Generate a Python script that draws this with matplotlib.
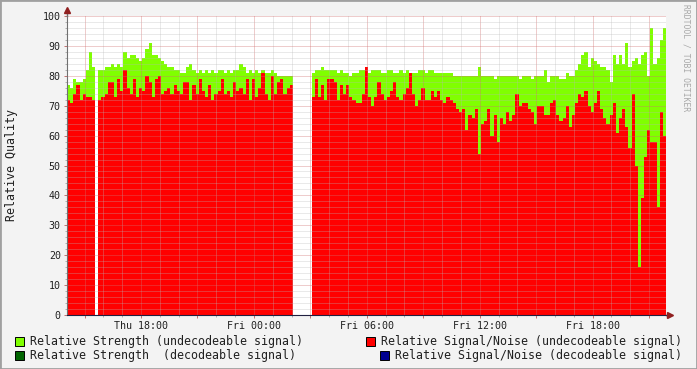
import numpy as np
import pandas as pd
import matplotlib
matplotlib.use("Agg")
import matplotlib.pyplot as plt
import matplotlib.dates as mdates
from matplotlib.ticker import MultipleLocator, FuncFormatter
from matplotlib.patches import Rectangle

# 10 minute samples starting Thursday 14:04
TIMES = pd.date_range("2024-01-04 14:04", periods=191, freq="10min")
STEP = pd.Timedelta(minutes=10)

# Relative Strength (undecodeable signal) - green area
STRENGTH = [
    77, 76, 79, 78, 78, 79, 82, 88, 83,
    None,
    82, 82, 83, 83, 84, 83, 84, 83, 88, 86, 87, 87, 86, 85, 86, 89,
    91, 87, 87, 86, 85, 84, 83, 83, 82, 82, 81, 81,
    83, 84, 82, 81, 82, 81, 82, 81, 82, 81, 82, 82, 81, 82, 81, 82,
    82, 84, 83, 81, 82, 81, 82, 81, 82, 81, 81, 82, 81, 80, 80, 80, 80, 80,
    None, None, None, None, None, None,
    81, 82, 82, 83, 82, 82, 82, 82, 81, 82, 81, 81, 80, 81, 81, 82,
    82, 82, 81, 82, 82, 82, 81, 81, 82, 82, 81, 81, 82, 81, 82, 81, 81, 81,
    82, 82, 81, 82, 82, 81, 81, 81, 81, 81, 81, 80, 80, 80, 80, 80,
    80, 80, 80, 83, 80, 80, 80, 80, 79, 80, 80, 80, 80, 80, 80, 80,
    79, 80, 80, 80, 79, 80, 80,
    80, 82, 78, 80, 80, 80, 79, 79, 81, 80, 80, 82, 84, 87, 88, 83,
    86, 85, 84, 83, 83, 82, 78, 87, 84, 87, 84, 91, 83, 85, 86, 84,
    87, 88, 80, 96, 84, 86, 92, 96,
]

# Relative Signal/Noise (undecodeable signal) - red area
SIGNAL_NOISE = [
    72, 71, 74, 77, 72, 74, 73, 73, 72,
    None,
    72, 73, 74, 78, 78, 73, 79, 75, 82, 76, 74, 79, 73, 76, 75, 80,
    78, 73, 79, 80, 74, 75, 76, 74, 77, 75, 74, 78,
    78, 72, 77, 74, 79, 75, 73, 77, 72, 74, 75, 79, 74, 75, 73, 78,
    75, 76, 74, 79, 72, 79, 73, 76, 81, 74, 72, 80, 74, 78, 79, 74, 76, 77,
    None, None, None, None, None, None,
    73, 79, 73, 77, 72, 79, 79, 78, 72, 77, 74, 77, 73, 72, 71, 71,
    74, 83, 73, 70, 73, 78, 74, 72, 73, 75, 78, 73, 72, 74, 76, 81, 74, 70,
    72, 76, 72, 72, 75, 73, 75, 72, 71, 73, 72, 71, 69, 68, 69, 62,
    67, 66, 69, 54, 64, 65, 69, 60, 67, 58, 66, 64, 68, 65, 67, 74,
    70, 71, 71, 69, 68, 64, 70,
    70, 67, 67, 71, 72, 67, 65, 66, 70, 63, 67, 71, 74, 73, 75, 70,
    68, 71, 75, 69, 66, 64, 67, 71, 61, 66, 69, 63, 56, 74, 50, 16,
    39, 53, 62, 58, 58, 36, 68, 60,
]

LEGEND_LEFT = ["Relative Strength (undecodeable signal)",
               "Relative Strength  (decodeable signal)"]
LEGEND_RIGHT = ["Relative Signal/Noise (undecodeable signal)",
                "Relative Signal/Noise (decodeable signal)"]
LEGEND_LEFT_COLORS = ["#80FF00", "#006400"]
LEGEND_RIGHT_COLORS = ["#FF0000", "#000090"]

MONO = "DejaVu Sans Mono"
W, H = 697, 369


def fx(px):
    return px / W


def fy(py):
    return 1 - py / H


def main():
    strength = np.array(STRENGTH, dtype=float)
    snr = np.array(SIGNAL_NOISE, dtype=float)
    t = mdates.date2num(TIMES)
    width = STEP / pd.Timedelta(days=1)

    fig = plt.figure(figsize=(W / 100, H / 100), dpi=100, facecolor="#F3F3F3")
    ax = fig.add_axes([fx(67), fy(315), fx(666) - fx(67), fy(16) - fy(315)])
    ax.set_facecolor("white")

    ax.bar(t, strength, width=width, align="edge", color=LEGEND_LEFT_COLORS[0],
           linewidth=0, antialiased=False, zorder=1)
    ax.bar(t, snr, width=width, align="edge", color=LEGEND_RIGHT_COLORS[0],
           linewidth=0, antialiased=False, zorder=2)

    ax.set_xlim(t[0], t[-1] + width)
    ax.set_ylim(0, 100)

    # grid, drawn over the areas like rrdtool does
    ax.yaxis.set_major_locator(MultipleLocator(10))
    ax.yaxis.set_minor_locator(MultipleLocator(2))
    ax.xaxis.set_major_locator(mdates.HourLocator(byhour=range(0, 24, 3)))
    ax.xaxis.set_minor_locator(mdates.HourLocator())
    ax.xaxis.set_major_formatter(FuncFormatter(
        lambda v, pos: mdates.num2date(v).strftime("%a %H:%M")
        if mdates.num2date(v).hour % 6 == 0 else ""))
    ax.set_axisbelow(False)
    ax.grid(which="minor", color="#B8B8B8", alpha=0.6, linewidth=0.72,
            linestyle=(0, (1, 1)))
    ax.grid(which="major", color="#D07070", alpha=0.7, linewidth=0.72,
            linestyle=(0, (1, 1)))

    for side in ["top", "right"]:
        ax.spines[side].set_visible(False)
    ax.spines["left"].set_color("#707070")
    ax.spines["bottom"].set_color("#202040")
    ax.spines["left"].set_zorder(5)
    ax.spines["bottom"].set_zorder(5)

    ax.tick_params(axis="both", which="major", length=2, width=0.7,
                   colors="#C07070", labelcolor="#202020", labelsize=7.2)
    ax.tick_params(axis="both", which="minor", length=1.5, width=0.7,
                   colors="#B0B0B0")
    ax.tick_params(axis="y", which="major", pad=2.5)
    ax.tick_params(axis="x", which="major", pad=2.2)
    for lab in ax.get_xticklabels() + ax.get_yticklabels():
        lab.set_fontfamily(MONO)

    # axis extensions with arrows
    ax.plot([0, 0], [1, 1.02], transform=ax.transAxes, color="#707070",
            linewidth=1, clip_on=False, zorder=5)
    ax.plot([1, 1.007], [0, 0], transform=ax.transAxes, color="#202040",
            linewidth=1, clip_on=False, zorder=5)
    ax.plot(0, 1.02, marker="^", markersize=4, color="#902020",
            transform=ax.transAxes, clip_on=False, zorder=6)
    ax.plot(1.007, 0, marker=">", markersize=4, color="#902020",
            transform=ax.transAxes, clip_on=False, zorder=6)

    fig.text(fx(12), fy(165), "Relative Quality", rotation=90, ha="center",
             va="center", fontsize=8.4, family=MONO, color="#202020")
    fig.text(fx(686), fy(4), "RRDTOOL / TOBI OETIKER", rotation=-90,
             ha="center", va="top", fontsize=5.8, family=MONO, color="#A8A8A8")

    # legend
    rows = [341, 355]
    for i, (label, color) in enumerate(zip(LEGEND_LEFT, LEGEND_LEFT_COLORS)):
        fig.patches.append(Rectangle((fx(15), fy(rows[i] + 4.5)), fx(9), 9 / H,
                                     transform=fig.transFigure, facecolor=color,
                                     edgecolor="black", linewidth=0.7))
        fig.text(fx(30), fy(rows[i]), label, ha="left", va="center",
                 fontsize=8.4, family=MONO, color="#202020")
    right_x = [366, 380]
    for i, (label, color) in enumerate(zip(LEGEND_RIGHT, LEGEND_RIGHT_COLORS)):
        fig.patches.append(Rectangle((fx(right_x[i]), fy(rows[i] + 4.5)), fx(9), 9 / H,
                                     transform=fig.transFigure, facecolor=color,
                                     edgecolor="black", linewidth=0.7))
        fig.text(fx(right_x[i] + 15), fy(rows[i]), label, ha="left", va="center",
                 fontsize=8.4, family=MONO, color="#202020")

    # outer frame
    fig.patches.append(Rectangle((0, 0), 1, 1, transform=fig.transFigure,
                                 facecolor="none", edgecolor="#A0A0A0",
                                 linewidth=2))

    fig.savefig("out.png", dpi=100, facecolor=fig.get_facecolor())


if __name__ == "__main__":
    main()
